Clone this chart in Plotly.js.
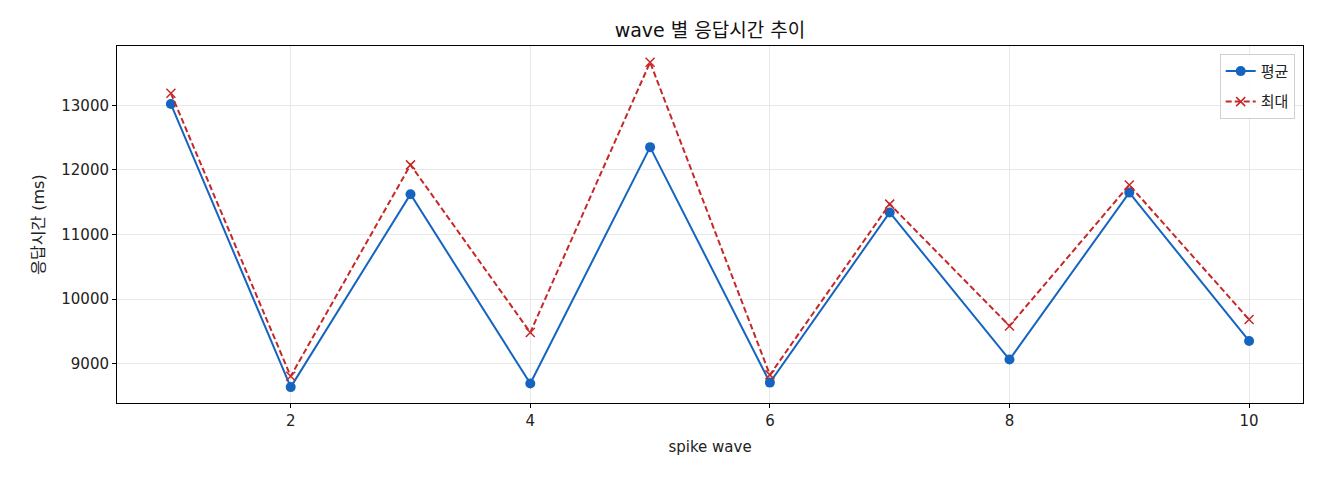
<!DOCTYPE html>
<html>
<head>
<meta charset="utf-8">
<script src="https://cdn.plot.ly/plotly-3.0.1.min.js"></script>
<style>
  html, body { margin: 0; padding: 0; background: #fff; }
  #myDiv { width: 1320px; height: 480px; }
</style>
</head>
<body>
<div id="myDiv"></div>
<script>
// wave 번호와 응답시간 (ms)
var waves = [1, 2, 3, 4, 5, 6, 7, 8, 9, 10];
var avgMs = [13020, 8635, 11623, 8690, 12352, 8705, 11341, 9062, 11648, 9350];
var maxMs = [13186, 8803, 12078, 9481, 13667, 8825, 11470, 9583, 11767, 9682];
var yTicks = [9000, 10000, 11000, 12000, 13000];
var xTicks = [2, 4, 6, 8, 10];

var fontFamily = '"DejaVu Sans", "Noto Sans CJK KR", sans-serif';

var trace1 = {
  name: '평균',
  legendgroup: 'avg',
  x: waves,
  y: avgMs,
  type: 'scatter',
  mode: 'lines+markers',
  line: {color: '#1565C0', width: 2},
  marker: {color: '#1565C0', size: 10, symbol: 'circle'}
};
var trace2 = {
  name: '최대',
  legendgroup: 'max',
  x: waves,
  y: maxMs,
  type: 'scatter',
  mode: 'lines+markers',
  line: {color: '#C62828', width: 2, dash: '6px,3px'},
  marker: {color: '#C62828', size: 9, symbol: 'x-thin', line: {color: '#C62828', width: 1.5}}
};

var data = [trace1, trace2];

var layout = {
  width: 1320,
  height: 480,
  margin: {l: 117, r: 17, t: 46, b: 77},
  paper_bgcolor: '#fff',
  plot_bgcolor: '#fff',
  font: {family: fontFamily, color: '#222', size: 14},
  title: {
    text: 'wave 별 응답시간 추이',
    font: {size: 19, color: '#111'},
    xref: 'paper', x: 0.5, xanchor: 'center',
    y: 1 - 30 / 480, yanchor: 'middle'
  },
  xaxis: {
    range: [0.55, 10.45],
    tickvals: xTicks,
    ticks: 'outside', ticklen: 4, tickwidth: 1, tickcolor: '#000',
    showline: true, linecolor: '#000', linewidth: 1, mirror: true,
    showgrid: true, gridcolor: '#e8e8e8', gridwidth: 1,
    zeroline: false,
    tickfont: {size: 15},
    title: {text: 'spike wave', font: {size: 15}, standoff: 12}
  },
  yaxis: {
    range: [8389, 13919],
    tickvals: yTicks,
    ticktext: yTicks.map(String),
    ticks: 'outside', ticklen: 4, tickwidth: 1, tickcolor: '#000',
    showline: true, linecolor: '#000', linewidth: 1, mirror: true,
    showgrid: true, gridcolor: '#e8e8e8', gridwidth: 1,
    zeroline: false,
    tickfont: {size: 15},
    title: {text: '응답시간 (ms)', font: {size: 16}, standoff: 12}
  },
  showlegend: true,
  legend: {
    x: 0.993, xanchor: 'right',
    y: 0.978, yanchor: 'top',
    bgcolor: 'rgba(255,255,255,0.8)',
    bordercolor: '#d0d0d0', borderwidth: 1,
    font: {size: 15},
    traceorder: 'grouped',
    tracegroupgap: 8
  }
};

Plotly.newPlot('myDiv', data, layout, {displayModeBar: false, staticPlot: true});
</script>
</body>
</html>
